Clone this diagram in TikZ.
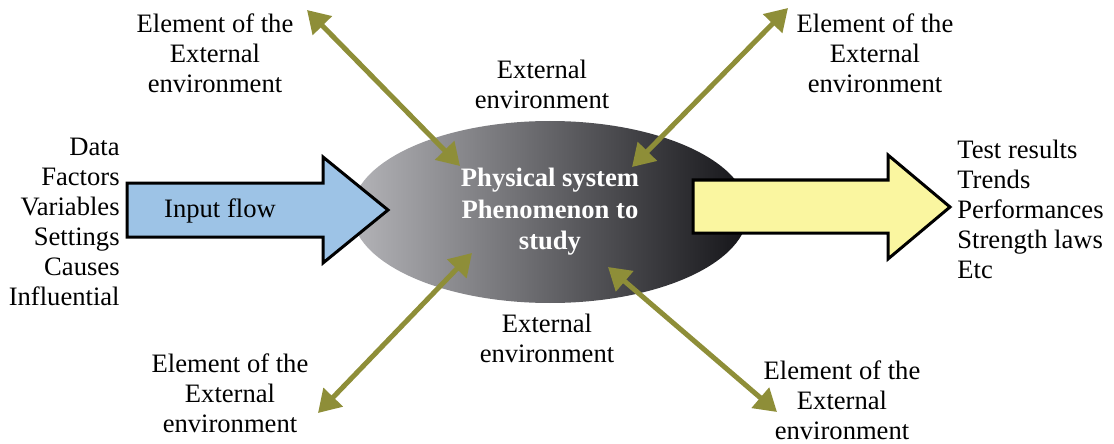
\documentclass[tikz,border=0pt]{standalone}
\usepackage{fontspec}
\setmainfont{Liberation Serif}
\usetikzlibrary{arrows.meta,shapes.geometric}
\definecolor{inblue}{RGB}{157,195,230}
\definecolor{outyellow}{RGB}{250,246,160}
\definecolor{olivelink}{RGB}{142,142,56}
\definecolor{ellleft}{RGB}{180,180,184}
\definecolor{ellright}{RGB}{20,20,24}

\begin{document}
\begin{tikzpicture}[x=0.5pt,y=-0.5pt,
    txt/.style={align=center,inner sep=0pt,font=\fontsize{13.3}{15}\selectfont},
    sysell/.style={ellipse,minimum width=198pt,minimum height=91pt,inner sep=0pt,
      left color=ellleft,right color=ellright,align=center,text=white,
      font=\bfseries\fontsize{13.3}{15.75}\selectfont},
    bigarrow/.style={draw=black,line width=1.5pt,miter limit=10},
    link/.style={draw=olivelink,line width=2.5pt,<->,
      >={Triangle[length=11pt,width=13pt]}}]
    \useasboundingbox (0,0) rectangle (1114,444);
    % system in the middle
    \node[sysell] (sys) at (550,212) {Physical system\\Phenomenon to\\study};
    % input and output flows
    \draw[bigarrow,fill=inblue] (127,183) -- (323,183) -- (323,157) -- (388,210)
      -- (323,263) -- (323,237) -- (127,237) -- cycle;
    \node[txt] (inflow) at (220,211) {Input flow};
    \draw[bigarrow,fill=outyellow] (693,180) -- (888,180) -- (888,155) -- (950,207)
      -- (888,259) -- (888,233) -- (693,233) -- cycle;
    \node[txt,align=right,anchor=east] (inputs) at (120,222)
      {Data\\Factors\\Variables\\Settings\\Causes\\Influential};
    \node[txt,align=left,anchor=west] (outputs) at (957,209)
      {Test results\\Trends\\Performances\\Strength laws\\Etc};
    % external environment
    \node[txt] (envtop) at (542,84) {External\\environment};
    \node[txt] (envbot) at (547,338) {External\\environment};
    \node[txt] (eltl) at (215,53) {Element of the\\External\\environment};
    \node[txt] (eltr) at (875,53) {Element of the\\External\\environment};
    \node[txt] (elbl) at (230,393) {Element of the\\External\\environment};
    \node[txt] (elbr) at (842,400) {Element of the\\External\\environment};
    \coordinate (tlOut) at (307,10);
    \coordinate (tlIn) at (460,166);
    \coordinate (trOut) at (788,8);
    \coordinate (trIn) at (632,167);
    \coordinate (blOut) at (318,413);
    \coordinate (blIn) at (472,253);
    \coordinate (brOut) at (777,412);
    \coordinate (brIn) at (608,267);
    \draw[link] (tlOut) -- (tlIn);
    \draw[link] (trOut) -- (trIn);
    \draw[link] (blOut) -- (blIn);
    \draw[link] (brOut) -- (brIn);
\end{tikzpicture}
\end{document}
